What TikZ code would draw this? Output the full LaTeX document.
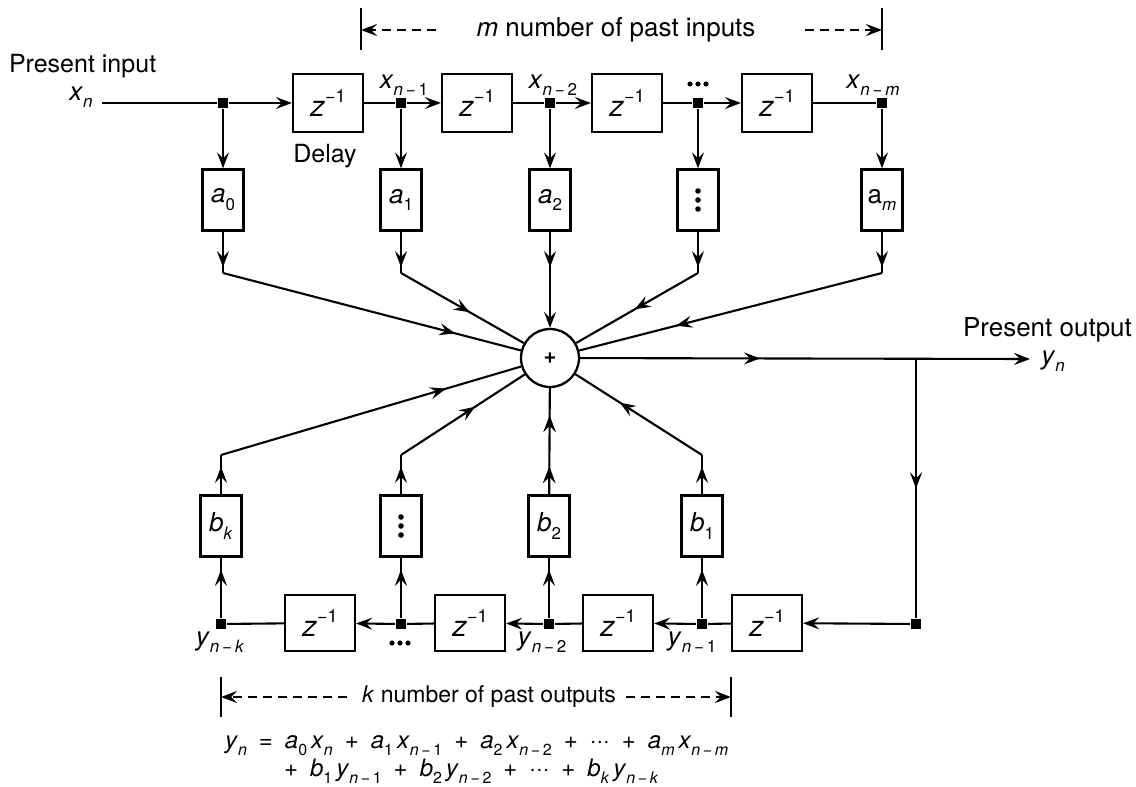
\documentclass[tikz,border=0pt]{standalone}
\usepackage{fontspec}
\setmainfont{TeX Gyre Heros}
\usetikzlibrary{arrows.meta,decorations.markings}
\newcommand{\mysubfont}{\fontsize{17}{17}\selectfont}
\newcommand{\mysupfont}{\fontsize{18}{18}\selectfont}
\newcommand{\lowr}[1]{\raisebox{-0.3em}{\mysubfont #1}}
\newcommand{\uppr}[1]{\raisebox{0.5em}{\mysupfont #1}}
\newcommand{\mn}{\,−\,}
\begin{document}
\begin{tikzpicture}[x=1pt,y=-1pt,line width=2.1pt,
  >={Stealth[length=16pt,width=12pt,inset=6pt]},
  dbox/.style={draw,line width=2.3pt,minimum width=70pt,minimum height=58pt,inner sep=0pt,font=\fontsize{29}{29}\selectfont},
  ebox/.style={dbox,minimum height=56pt},
  cbox/.style={draw,line width=2.3pt,minimum width=41pt,minimum height=61pt,inner sep=0pt,font=\fontsize{26}{26}\selectfont},
  jdot/.style={fill,minimum size=10pt,inner sep=0pt},
  lbl/.style={font=\fontsize{26}{26}\selectfont,inner sep=0pt},
  txt/.style={font=\fontsize{25}{25}\selectfont,inner sep=0pt},
  eqn/.style={font=\fontsize{24}{24}\selectfont,inner sep=0pt},
  marr/.style={postaction={decorate},decoration={markings,mark=at position #1 with {\arrow{>}}}},
  dsh/.style={dash pattern=on 9pt off 6pt}
]
\useasboundingbox (0,0) rectangle (1136,787);

% ---------------- top row
\node[txt,anchor=west] (pin) at (8,66) {Present input};
\node[lbl,anchor=base] (xnl) at (81,100) {\textit{x}\lowr{\textit{n}}};
\coordinate (xin) at (102,103);
\node[jdot] (j0) at (223,103) {};
\node[dbox] (D1) at (328,103) {\textit{z}\uppr{−1}};
\node[jdot] (j1) at (401,103) {};
\node[dbox] (D2) at (477,103) {\textit{z}\uppr{−1}};
\node[jdot] (j2) at (550,103) {};
\node[dbox] (D3) at (627,103) {\textit{z}\uppr{−1}};
\node[jdot] (j3) at (698,103) {};
\node[dbox] (D4) at (777,103) {\textit{z}\uppr{−1}};
\node[jdot] (j4) at (882,103) {};

\node[txt] (delay) at (325,156) {Delay};
\node[lbl,anchor=base] (lx1) at (404,88) {\textit{x}\lowr{\textit{n}\mn 1}};
\node[lbl,anchor=base] (lx2) at (553,88) {\textit{x}\lowr{\textit{n}\mn 2}};
\coordinate (ldt) at (698,84);
\foreach \k in {-8,0,8} \fill (ldt) ++(\k,0) circle (2.6pt);
\node[lbl,anchor=base] (lxm) at (873,88) {\textit{x}\lowr{\textit{n}\mn\textit{m}}};

\draw (xin) -- (j0);
\draw[->] (j0) -- (D1);
\draw (D1) -- (j1);
\draw[->] (j1) -- (D2);
\draw (D2) -- (j2);
\draw[->] (j2) -- (D3);
\draw (D3) -- (j3);
\draw[->] (j3) -- (D4);
\draw (D4) -- (j4);

% coefficient boxes a
\node[cbox] (A0) at (223,200) {\textit{a}\lowr{0}};
\node[cbox] (A1) at (401,200) {\textit{a}\lowr{1}};
\node[cbox] (A2) at (550,200) {\textit{a}\lowr{2}};
\node[cbox] (A3) at (698,200) {};
\node[cbox] (Am) at (882,200) {a\lowr{\textit{m}}};
\foreach \k in {-9,0,9} \fill (A3.center) ++(0,\k) circle (2.8pt);

\draw[->] (j0) -- (A0);
\draw[->] (j1) -- (A1);
\draw[->] (j2) -- (A2);
\draw[->] (j3) -- (A3);
\draw[->] (j4) -- (Am);

% summer
\node[draw,circle,line width=2.3pt,minimum size=58pt,inner sep=0pt,font=\bfseries\fontsize{22}{22}\selectfont] (S) at (550,358) {+};

\coordinate (a0b) at (223,273);
\coordinate (a1b) at (401,273);
\coordinate (a3b) at (698,273);
\coordinate (amb) at (882,273);
\draw[marr=0.86] (A0) -- (a0b);
\draw[marr=0.86] (A1) -- (a1b);
\draw[marr=0.86] (A3) -- (a3b);
\draw[marr=0.86] (Am) -- (amb);
\draw[marr=0.78] (a0b) -- (S);
\draw[marr=0.56] (a1b) -- (S);
\draw[marr=0.37,->] (A2) -- (S);
\draw[marr=0.52] (a3b) -- (S);
\draw[marr=0.68] (amb) -- (S);

% output
\coordinate (yout) at (1030,359);
\coordinate (T) at (916,359);
\draw[marr=0.40,->] (S) -- (yout);
\node[txt,anchor=west,font=\fontsize{26}{26}\selectfont] (pout) at (962,330) {Present output};
\node[lbl,anchor=base] (ynl) at (1053,364) {\textit{y}\lowr{\textit{n}}};

% ---------------- bottom row
\node[ebox] (E1) at (767,623) {\textit{z}\uppr{−1}};
\node[ebox] (E2) at (618,623) {\textit{z}\uppr{−1}};
\node[ebox] (E3) at (470,623) {\textit{z}\uppr{−1}};
\node[ebox] (E4) at (320,623) {\textit{z}\uppr{−1}};
\node[jdot] (R) at (916,624) {};
\node[jdot] (jy1) at (702,624) {};
\node[jdot] (jy2) at (549,624) {};
\node[jdot] (jyd) at (401,624) {};
\node[jdot] (jyk) at (221,624) {};

\draw[marr=0.5] (T) -- (R);
\draw[->] (R) -- (E1);
\draw (E1) -- (jy1);
\draw[->] (jy1) -- (E2);
\draw (E2) -- (jy2);
\draw[->] (jy2) -- (E3);
\draw (E3) -- (jyd);
\draw[->] (jyd) -- (E4);
\draw (E4) -- (jyk);

\node[lbl,anchor=base] (lyk) at (220,645) {\textit{y}\lowr{\textit{n}\mn\textit{k}}};
\coordinate (ldb) at (400,643);
\foreach \k in {-8,0,8} \fill (ldb) ++(\k,0) circle (2.6pt);
\node[lbl,anchor=base] (ly2) at (542,645) {\textit{y}\lowr{\textit{n}\mn 2}};
\node[lbl,anchor=base] (ly1) at (692,645) {\textit{y}\lowr{\textit{n}\mn 1}};

% coefficient boxes b
\node[cbox] (Bk) at (221,526) {\textit{b}\lowr{\textit{k}}};
\node[cbox] (Bd) at (401,526) {};
\node[cbox] (B2) at (549,526) {\textit{b}\lowr{2}};
\node[cbox] (B1) at (702,526) {\textit{b}\lowr{1}};
\foreach \k in {-9,0,9} \fill (Bd.center) ++(0,\k) circle (2.8pt);

\draw[marr=0.8] (jyk) -- (Bk);
\draw[marr=0.8] (jyd) -- (Bd);
\draw[marr=0.8] (jy2) -- (B2);
\draw[marr=0.8] (jy1) -- (B1);

\coordinate (bkt) at (221,455);
\coordinate (bdt) at (401,455);
\coordinate (b1t) at (702,455);
\draw[marr=0.7] (Bk) -- (bkt);
\draw[marr=0.7] (Bd) -- (bdt);
\draw[marr=0.7] (B1) -- (b1t);
\draw[marr=0.75] (bkt) -- (S);
\draw[marr=0.6] (bdt) -- (S);
\draw[marr=0.65] (b1t) -- (S);
\draw[marr=0.26,marr=0.74] (B2) -- (S);

% ---------------- brackets
\coordinate (mLt) at (361,8); \coordinate (mLb) at (361,50);
\coordinate (mRt) at (882,8); \coordinate (mRb) at (882,50);
\coordinate (mL) at (361,30); \coordinate (mLd) at (436,30);
\coordinate (mR) at (882,30); \coordinate (mRd) at (805,30);
\draw (mLt) -- (mLb);
\draw (mRt) -- (mRb);
\draw[dsh,->] (mLd) -- (mL);
\draw[dsh,->] (mRd) -- (mR);
\node[txt,font=\fontsize{26}{26}\selectfont] (mtxt) at (616,30) {\textit{m} number of past inputs};

\coordinate (kLt) at (221,677); \coordinate (kLb) at (221,717);
\coordinate (kRt) at (731,677); \coordinate (kRb) at (731,717);
\coordinate (kL) at (221,697); \coordinate (kLd) at (347,697);
\coordinate (kR) at (731,697); \coordinate (kRd) at (626,697);
\draw (kLt) -- (kLb);
\draw (kRt) -- (kRb);
\draw[dsh,->] (kLd) -- (kL);
\draw[dsh,->] (kRd) -- (kR);
\node[txt,font=\fontsize{23}{23}\selectfont] (ktxt) at (489,697) {\textit{k} number of past outputs};

% ---------------- equation
\renewcommand{\mysubfont}{\fontsize{16}{16}\selectfont}
\node[eqn,anchor=base west] (eq1) at (224,748) {\textit{y}\lowr{\textit{n}}\enspace=\enspace\textit{a}\lowr{0}\,\textit{x}\lowr{\textit{n}}\enspace+\enspace\textit{a}\lowr{1}\,\textit{x}\lowr{\textit{n}\mn 1}\enspace+\enspace\textit{a}\lowr{2}\,\textit{x}\lowr{\textit{n}\mn 2}\enspace+\enspace···\enspace+\enspace\textit{a}\lowr{\textit{m}}\,\textit{x}\lowr{\textit{n}\mn\textit{m}}};
\node[eqn,anchor=base west] (eq2) at (283,776) {+\enspace\textit{b}\lowr{1}\,\textit{y}\lowr{\textit{n}\mn 1}\enspace+\enspace\textit{b}\lowr{2}\,\textit{y}\lowr{\textit{n}\mn 2}\enspace+\enspace···\enspace+\enspace\textit{b}\lowr{\textit{k}}\,\textit{y}\lowr{\textit{n}\mn\textit{k}}};
\end{tikzpicture}
\end{document}
